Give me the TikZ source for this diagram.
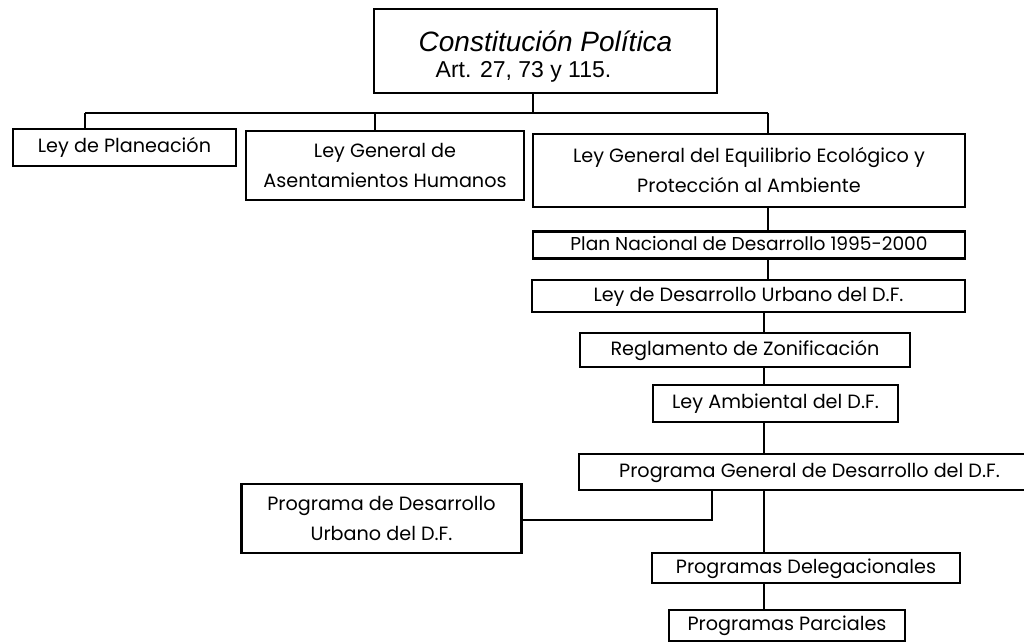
\documentclass[tikz,border=0pt]{standalone}
\usepackage{fontspec}
\setmainfont{Poppins}
\newfontfamily\titlefont{Liberation Sans}
\tikzset{
  box/.style={draw,line width=1.1pt,inner sep=0pt,align=center,
    font=\fontsize{9.6}{15}\selectfont},
  single/.style={box,text height=7pt,text depth=2pt},
  link/.style={line width=1.1pt}
}
\begin{document}
\begin{tikzpicture}[x=0.5pt,y=-0.5pt]
\useasboundingbox (0,0) rectangle (1024,642);
% cajas
\node[box,minimum width=171.5pt,minimum height=42pt] (cp) at (545.5,51)
  {{\titlefont\fontsize{14}{16}\selectfont\itshape\rule{0pt}{15.5pt}Constitución Política}\\[-2pt]
   {\titlefont\fontsize{11.5}{12}\selectfont Art. 27, 73 y 115.\hspace*{22pt}}};
\node[single,minimum width=111.5pt,minimum height=18.5pt] (lp) at (124.5,147.5) {Ley de Planeación};
\node[box,minimum width=139pt,minimum height=34.5pt] (lgah) at (385,165.5) {Ley General de\\Asentamientos Humanos};
\node[box,minimum width=216pt,minimum height=36.5pt] (lgeepa) at (749,170.5) {Ley General del Equilibrio Ecológico y\\Protección al Ambiente};
\node[single,minimum width=216pt,minimum height=13.5pt,text height=6.5pt,text depth=1.5pt,
  font=\fontsize{9.3}{15}\selectfont] (pnd) at (749,245) {Plan Nacional de Desarrollo 1995-2000};
\node[single,minimum width=216.5pt,minimum height=16pt] (ldu) at (748.5,296) {Ley de Desarrollo Urbano del D.F.};
\node[single,minimum width=165pt,minimum height=17pt] (rz) at (745,350) {Reglamento de Zonificación};
\node[single,minimum width=122.5pt,minimum height=18.5pt] (la) at (775.5,403.5) {Ley Ambiental del D.F.};
\node[single,minimum width=230.5pt,minimum height=18pt] (pgd) at (809.5,472) {Programa General de Desarrollo del D.F.};
\node[box,minimum width=140pt,minimum height=34.5pt] (pdu) at (381.5,518.5) {Programa de Desarrollo\\Urbano del D.F.};
\node[single,minimum width=154pt,minimum height=15pt] (pdel) at (806,568) {Programas Delegacionales};
\node[single,minimum width=118pt,minimum height=15.5pt] (ppar) at (787,625.5) {Programas Parciales};
% lineas
\coordinate (c0) at (533,113);
\coordinate (c1) at (85,113);
\coordinate (c2) at (375,113);
\coordinate (c3) at (768,113);
\coordinate (s1) at (768,0);
\coordinate (s2) at (764,0);
\coordinate (k) at (712,520);
\draw[link] (cp.south -| c0) -- (c0);
\draw[link] (c1) -- (c3);
\draw[link] (c1) -- (lp.north -| c1);
\draw[link] (c2) -- (lgah.north -| c2);
\draw[link] (c3) -- (lgeepa.north -| c3);
\draw[link] (lgeepa.south -| s1) -- (pnd.north -| s1);
\draw[link] (pnd.south -| s1) -- (ldu.north -| s1);
\draw[link] (ldu.south -| s2) -- (rz.north -| s2);
\draw[link] (rz.south -| s2) -- (la.north -| s2);
\draw[link] (la.south -| s2) -- (pgd.north -| s2);
\draw[link] (pgd.south -| s2) -- (pdel.north -| s2);
\draw[link] (pdel.south -| s2) -- (ppar.north -| s2);
\draw[link] (pgd.south -| k) -- (k) -- (pdu.east |- k);
\end{tikzpicture}
\end{document}
